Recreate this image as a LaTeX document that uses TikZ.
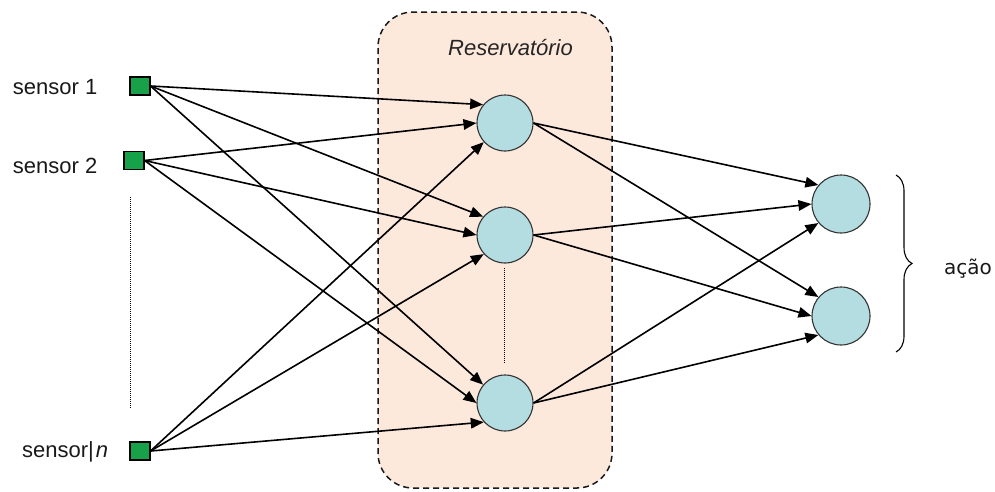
\documentclass[tikz,border=0pt]{standalone}
\usepackage{fontspec}
\setmainfont{Liberation Sans}
\newfontfamily\dejavu{DejaVu Sans}
\usetikzlibrary{arrows.meta,decorations.pathreplacing}
\definecolor{resfill}{HTML}{FDE8DC}
\definecolor{neuronfill}{HTML}{B4DDE1}
\definecolor{sensgreen}{HTML}{17A24A}
\begin{document}
\begin{tikzpicture}[x=1pt,y=-1pt,
  sensorbox/.style={draw=black,line width=1.1pt,fill=sensgreen,minimum width=20pt,minimum height=18pt,inner sep=0pt},
  neuronnode/.style={circle,draw=black!80,line width=1.1pt,fill=neuronfill,minimum size=56pt,inner sep=0pt},
  outnode/.style={neuronnode,minimum size=58pt},
  arr/.style={line width=1.6pt,-{Triangle[length=13pt,width=10.5pt]}},
  lbl/.style={font=\fontsize{22}{26}\selectfont,anchor=base west,inner sep=0pt,text=black!90},
  dotline/.style={line width=1pt,dash pattern=on 1pt off 1pt}]
\useasboundingbox (0,0) rectangle (995,491);
% reservoir box
\node[draw=black!90,line width=1.5pt,dash pattern=on 6pt off 4pt,rounded corners=35pt,
      fill=resfill,minimum width=234pt,minimum height=476pt,inner sep=0pt] (res) at (495,250) {};
\node[font=\fontsize{22}{26}\selectfont\itshape,anchor=base,inner sep=0pt,text=black!85] (restitle) at (510.5,55.5) {Reservatório};
% dotted lines
\coordinate (dl1) at (130,197);
\coordinate (dl2) at (130,408);
\draw[dotline] (dl1) -- (dl2);
\coordinate (dm1) at (504,268);
\coordinate (dm2) at (504,363);
\draw[dotline] (dm1) -- (dm2);
% labels
\node[lbl] (l1) at (12.7,94.3) {sensor 1};
\node[lbl] (l2) at (12.7,173.3) {sensor 2};
\node[lbl] (ln) at (22,457) {sensor|\hspace{2pt}\textit{n}};
% sensors
\node[sensorbox] (s1) at (140,86) {};
\node[sensorbox] (s2) at (134,160.5) {};
\node[sensorbox] (sn) at (140,451) {};
% reservoir neurons
\node[neuronnode] (r1) at (505,123) {};
\node[neuronnode] (r2) at (505,235) {};
\node[neuronnode] (r3) at (505,403) {};
% outputs
\node[outnode] (o1) at (841,204) {};
\node[outnode] (o2) at (841,316) {};
% input connections
\foreach \r in {r1,r2,r3}{
  \draw[arr] (s1.east) -- (\r.140);
  \draw[arr] (s2.east) -- (\r.180);
  \draw[arr] (sn.east) -- (\r.222);
}
% output connections
\foreach \o in {o1,o2}{
  \draw[arr] (r1.east) -- (\o.140);
  \draw[arr] (r2.east) -- (\o.180);
  \draw[arr] (r3.east) -- (\o.220);
}
% brace
\coordinate (b1) at (896,175);
\coordinate (b2) at (896,352);
\draw[line width=1.1pt,decorate,decoration={brace,amplitude=16pt}] (b1) -- (b2);
\node[font=\dejavu\fontsize{20}{24}\selectfont,anchor=base west,inner sep=0pt,text=black!90] (acao) at (944,274) {ação};
\end{tikzpicture}
\end{document}
